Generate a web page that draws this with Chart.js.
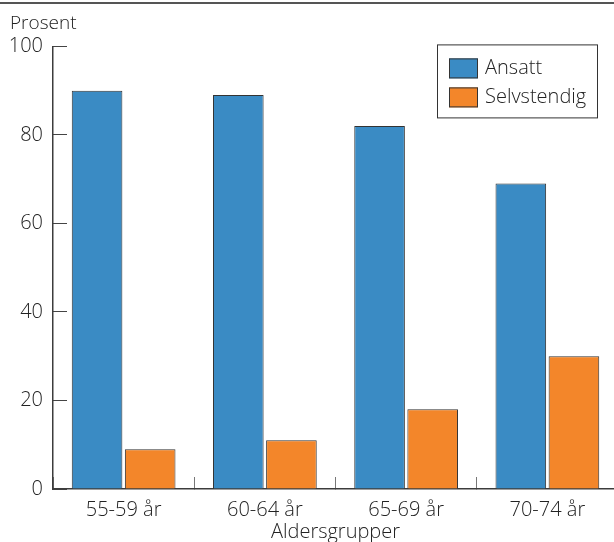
<!DOCTYPE html>
<html>
<head>
<meta charset="utf-8">
<script src="https://cdn.jsdelivr.net/npm/chart.js@4/dist/chart.umd.min.js"></script>
<style>
  html, body { margin: 0; padding: 0; background: #fff; overflow: hidden; }
  #wrap { width: 618px; height: 542px; }
</style>
</head>
<body>
<div id="wrap"><canvas id="c" width="618" height="542"></canvas></div>
<script>
// Age groups on the x axis
const categories = ['55-59 år', '60-64 år', '65-69 år', '70-74 år'];
// Share (percent) by type of employment
const seriesNames = ['Ansatt', 'Selvstendig'];
const ansatt = [90, 89, 82, 69];
const selvstendig = [9, 11, 18, 30];
// Value axis
const yMin = 0;
const yMax = 100;
const yStep = 20;

const FONT = "'Open Sans', 'Noto Sans', sans-serif";
const WEIGHT = 350;
const TEXT = '#222';
const AXIS = '#3c3c3c';
const BLUE = '#3a8bc4';
const ORANGE = '#f3862a';

// thin rule across the top of the figure
const topRule = {
  id: 'topRule',
  afterDraw(chart) {
    const ctx = chart.ctx;
    ctx.save();
    ctx.strokeStyle = '#555';
    ctx.lineWidth = 2;
    ctx.beginPath();
    ctx.moveTo(0, 3);
    ctx.lineTo(chart.width, 3);
    ctx.stroke();
    ctx.restore();
  }
};

// framed legend in the upper right corner of the plot
const boxedLegend = {
  id: 'boxedLegend',
  afterDraw(chart) {
    const ctx = chart.ctx;
    const area = chart.chartArea;
    const left = area.right - 181;
    const top = area.top - 2;
    const w = 160, h = 73;
    ctx.save();
    ctx.fillStyle = '#fff';
    ctx.fillRect(left, top, w, h);
    ctx.strokeStyle = '#333';
    ctx.lineWidth = 1;
    ctx.strokeRect(left + 0.5, top + 0.5, w, h);
    ctx.font = WEIGHT + ' 20px ' + FONT;
    ctx.textBaseline = 'middle';
    ctx.textAlign = 'left';
    chart.data.datasets.forEach((ds, i) => {
      const sx = left + 12;
      const sy = top + 14 + i * 29;
      ctx.fillStyle = ds.backgroundColor;
      ctx.fillRect(sx, sy, 29, 20);
      ctx.strokeStyle = '#333';
      ctx.strokeRect(sx + 0.5, sy + 0.5, 28, 19);
      ctx.fillStyle = TEXT;
      ctx.fillText(ds.label, sx + 36, sy + 10);
    });
    ctx.restore();
  }
};

new Chart(document.getElementById('c'), {
  type: 'bar',
  data: {
    labels: categories,
    datasets: [
      { label: seriesNames[0], data: ansatt, backgroundColor: BLUE, borderColor: '#333', borderWidth: 1 },
      { label: seriesNames[1], data: selvstendig, backgroundColor: ORANGE, borderColor: '#333', borderWidth: 1 }
    ]
  },
  options: {
    responsive: false,
    animation: false,
    devicePixelRatio: 1,
    categoryPercentage: 0.752,
    barPercentage: 0.953,
    layout: { padding: { left: 10, top: 0, right: 0, bottom: 0 } },
    plugins: {
      legend: { display: false },
      tooltip: { enabled: false },
      title: {
        display: true,
        text: 'Prosent',
        align: 'start',
        color: TEXT,
        font: { family: FONT, size: 19, weight: WEIGHT },
        padding: { top: 12, bottom: 11.6 }
      }
    },
    scales: {
      x: {
        type: 'category',
        offset: true,
        border: { display: true, color: AXIS, width: 1.5 },
        grid: { display: true, offset: true, drawOnChartArea: false, drawTicks: true, tickLength: -12, color: '#777', lineWidth: 1 },
        ticks: { color: TEXT, font: { family: FONT, size: 20, weight: WEIGHT }, padding: 21 },
        title: { display: true, text: 'Aldersgrupper', color: TEXT, font: { family: FONT, size: 20, weight: WEIGHT }, padding: { top: 0, bottom: -2 } },
        afterFit(scale) { scale.height = 53; }
      },
      y: {
        min: yMin,
        max: yMax,
        border: { display: true, color: AXIS, width: 1.5 },
        grid: { display: true, drawOnChartArea: false, drawTicks: true, tickLength: -14, color: '#444', lineWidth: 1 },
        ticks: { stepSize: yStep, color: TEXT, font: { family: FONT, size: 20, weight: WEIGHT }, padding: 24 },
        afterFit(scale) { scale.width = 43; }
      }
    }
  },
  plugins: [topRule, boxedLegend]
});
</script>
</body>
</html>
